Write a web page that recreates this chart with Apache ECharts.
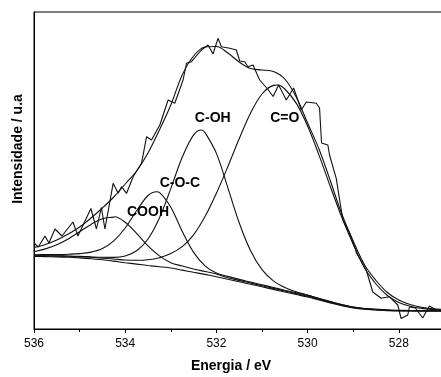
<!DOCTYPE html>
<html><head><meta charset="utf-8">
<script src="https://cdn.jsdelivr.net/npm/echarts@6/dist/echarts.min.js"></script>
<style>html,body{margin:0;padding:0;background:#fff}#c{width:441px;height:377px}</style>
</head><body><div id="c"></div>
<script>
// Binding energy grid (eV) for the fitted curves
const energies = [536,535.75,535.5,535.25,535,534.75,534.5,534.25,534,533.75,533.5,533.25,533,532.75,532.5,532.25,532,531.75,531.5,531.25,531,530.75,530.5,530.25,530,529.75,529.5,529.25,529,528.75,528.5,528.25,528,527.75,527.5,527.25,527];
// Shirley-type background (arbitrary units)
const background = [72.5,72.4,72.1,71.7,71.1,70.3,69.2,67.9,66.3,64.9,63.5,62.3,61.0,58.9,56.7,54.6,52.3,49.8,47.3,44.8,42.2,39.6,37.0,34.5,32.0,29.0,26.0,23.2,21.0,19.7,19.0,18.4,18.1,18.0,18.0,18.0,18.0];
// Component peaks (peak + background)
const coohPeak = [77.3,80.1,84.3,90.1,97.3,104.6,110.3,111.9,106.7,95.6,83.1,73.1,66.3,63.0,60.0,57.5,55.0,51.3,48.6,46.0,43.3,40.6,38.0,35.4,32.8,29.7,26.6,23.7,21.5,20.1,19.3,18.7,18.35,18.2,18.1,18.05,18.0];
const cocPeak = [74.2,74.4,74.5,74.8,75.4,76.9,80.5,88.2,101.0,118.2,133.5,136.7,121.8,97.7,76.6,63.2,55.9,52.6,49.6,46.9,44.2,41.5,38.8,36.2,33.6,30.5,27.4,24.4,22.0,20.5,19.6,18.9,18.5,18.3,18.15,18.1,18.05];
const cohPeak = [73.3,73.3,73.2,73.0,72.6,72.1,71.7,71.6,73.0,78.2,90.0,111.0,140.4,171.7,194.1,196.4,175.6,141.4,106.3,78.2,59.3,48.1,41.5,37.3,34.0,30.6,27.3,24.3,22.0,20.55,19.75,19.05,18.7,18.55,18.5,18.45,18.4];
const coPeak = [73.2,73.2,73.0,72.7,72.3,71.7,70.9,70.0,69.0,68.7,69.2,71.3,75.5,82.4,94.2,112.4,135.7,162.3,190.2,216,235,243.6,240,225.9,203,173.9,142.3,111.7,84.8,61,45,33.5,26.5,22.8,20.6,19.4,18.8];
// Peak maxima [eV, intensity]
const coohTop = [534.23,112.3];
const cocTop = [533.31,137.3];
const cohTop = [532.33,199];
const coTop = [530.65,244];
// Fitted envelope
const envelope = [81.5,84.5,89,95,102,111,121,132,145,158,176,199,224,254,273,282,282.5,276,267,260.5,259,257.5,250,232,206,180,148,115,88,64,48.5,36.5,29,24.5,21.8,20.3,19.5];
// Measured spectrum [eV, intensity]
const rawSpectrum = [[536.000,86],[535.906,82],[535.759,93],[535.672,86],[535.540,100],[535.387,93],[535.146,107],[535.037,93],[534.752,120.5],[534.631,100],[534.522,121.5],[534.445,100],[534.264,145.7],[534.154,135.7],[534.080,142.3],[533.970,135.7],[533.826,152.3],[533.642,165.7],[533.532,192.3],[533.423,189],[533.241,204],[533.059,229],[532.913,225.7],[532.731,249],[532.656,265.7],[532.547,267.3],[532.328,279],[532.183,284],[532.074,275],[531.965,290.7],[531.890,282.3],[531.708,280.7],[531.562,279],[531.489,268],[531.380,267.3],[531.308,262.3],[531.198,264],[531.051,249],[530.876,240],[530.756,232.5],[530.635,244],[530.467,229],[530.307,241],[530.138,219],[530.029,227],[529.810,225.7],[529.738,221],[529.694,186],[529.556,184],[529.519,174],[529.372,150.7],[529.228,109],[529.081,95.7],[528.971,82.3],[528.927,76],[528.715,59],[528.571,37],[528.387,30.7],[528.205,32.3],[528.023,24],[527.949,10.5],[527.804,14],[527.767,22],[527.636,21],[527.476,11],[527.329,23],[527.182,19],[527.088,19]];
// Component labels anchored in data coordinates
const peakLabels = [
  {text:'C-OH', e:532.08, v:211},
  {text:'C=O', e:530.50, v:211},
  {text:'C-O-C', e:532.80, v:145.7},
  {text:'COOH', e:533.50, v:117}
];
const xName = 'Energia / eV';
const yName = 'Intensidade / u.a';

function pairs(ys, extra) {
  const d = energies.map((x, i) => [x, ys[i]]);
  if (extra) { d.push(extra); d.sort((a, b) => b[0] - a[0]); }
  return d;
}
const FONT = '"Liberation Sans", Arial, sans-serif';
const lineStyle = {color:'#111', width:1.1};
function smoothSeries(name, data) {
  return {name, type:'line', data, showSymbol:false, smooth:0.35,
    lineStyle, silent:true, z:2};
}
const chart = echarts.init(document.getElementById('c'), null, {renderer:'canvas'});
chart.setOption({
  animation:false,
  backgroundColor:'#fff',
  grid:{left:34, right:-49, top:12, bottom:48, outerBoundsMode:'none', containLabel:false,
    show:true, borderColor:'#000', borderWidth:1, backgroundColor:'transparent'},
  xAxis:{type:'value', min:526, max:536, interval:2, inverse:true,
    axisLine:{show:true, onZero:false, lineStyle:{color:'#000', width:1}},
    axisTick:{show:true, length:4, lineStyle:{color:'#000'}},
    minorTick:{show:true, splitNumber:2, length:3, lineStyle:{color:'#000'}},
    splitLine:{show:false}, minorSplitLine:{show:false},
    axisLabel:{color:'#000', fontSize:12, fontFamily:FONT, margin:9}},
  yAxis:{type:'value', min:0, max:317,
    axisLine:{show:true, lineStyle:{color:'#000', width:1}},
    axisTick:{show:false}, axisLabel:{show:false}, splitLine:{show:false}},
  series:[
    {name:'Experimental', type:'line', data:rawSpectrum, showSymbol:false, smooth:false, lineStyle, silent:true, z:3},
    smoothSeries('Envelope', pairs(envelope)),
    smoothSeries('Background', pairs(background)),
    smoothSeries('COOH', pairs(coohPeak, coohTop)),
    smoothSeries('C-O-C', pairs(cocPeak, cocTop)),
    smoothSeries('C-OH', pairs(cohPeak, cohTop)),
    smoothSeries('C=O', pairs(coPeak, coTop))
  ]
});
const graphics = peakLabels.map(l => {
  const p = chart.convertToPixel({gridIndex:0}, [l.e, l.v]);
  return {type:'text', x:p[0], y:p[1], z:10,
    style:{text:l.text, fill:'#000', font:'bold 14px ' + FONT, align:'center', verticalAlign:'middle'}};
});
graphics.push({type:'text', x:231, y:366, z:10,
  style:{text:xName, fill:'#000', font:'bold 14px ' + FONT, align:'center', verticalAlign:'middle'}});
graphics.push({type:'text', x:18, y:149, rotation:Math.PI/2, z:10,
  style:{text:yName, fill:'#000', font:'bold 14px ' + FONT, align:'center', verticalAlign:'middle'}});
chart.setOption({graphic:graphics});
</script></body></html>
